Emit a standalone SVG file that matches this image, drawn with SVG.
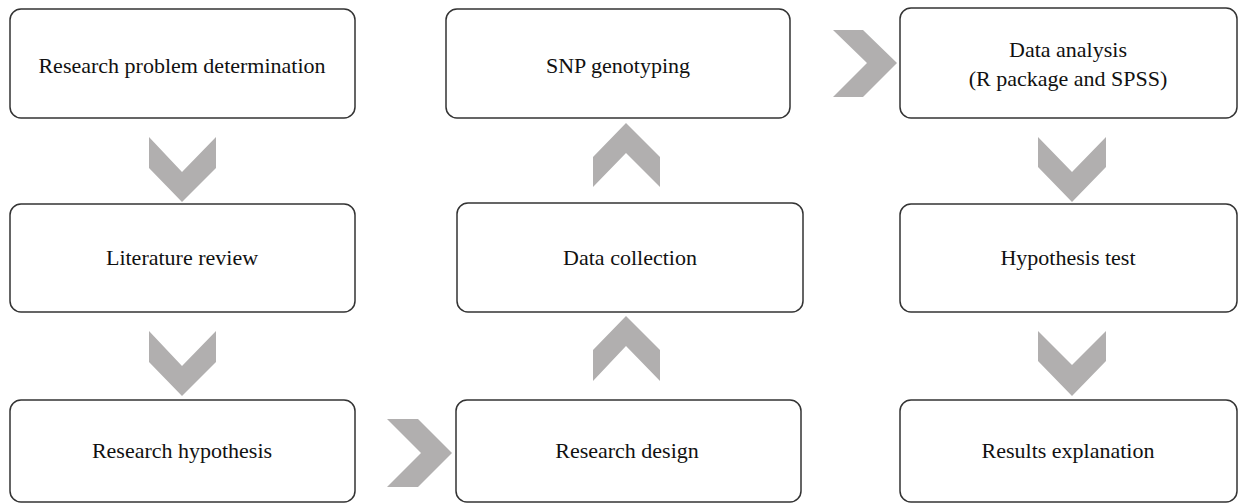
<svg xmlns="http://www.w3.org/2000/svg" width="1239" height="504" viewBox="0 0 1239 504">
<style>
.box{fill:#fff;stroke:#333;stroke-width:1.5}
.lbl{font-family:'Liberation Serif','DejaVu Serif','Times New Roman',serif;font-size:22px;fill:#111;text-anchor:middle}
.chev{fill:#b1afaf}
</style>
<rect width="1239" height="504" fill="#fff"/>
<g id="connectors">
<polygon class="chev" points="149,137 182,172 216,137 216,168 182,202 149,168"/>
<polygon class="chev" points="149,331 182,366 216,331 216,362 182,396 149,362"/>
<polygon class="chev" points="387,419 418,419 452,453 418,487 387,487 421,453"/>
<polygon class="chev" points="593,350 626,316 660,350 660,381 626,346 593,381"/>
<polygon class="chev" points="593,157 626,123 660,157 660,187 626,153 593,187"/>
<polygon class="chev" points="833,30 863,30 897,63 863,97 833,97 867,63"/>
<polygon class="chev" points="1038,137 1072,172 1106,137 1106,167 1072,202 1038,167"/>
<polygon class="chev" points="1038,331 1072,365 1106,331 1106,361 1072,396 1038,361"/>
</g>
<g id="n1"><rect class="box" x="10" y="9" width="345" height="109" rx="11"/><text class="lbl" x="182" y="73">Research problem determination</text></g>
<g id="n2"><rect class="box" x="10" y="204" width="345" height="108" rx="11"/><text class="lbl" x="182" y="265">Literature review</text></g>
<g id="n3"><rect class="box" x="10" y="400" width="345" height="102" rx="11"/><text class="lbl" x="182" y="458">Research hypothesis</text></g>
<g id="n4"><rect class="box" x="456" y="400" width="345" height="102" rx="11"/><text class="lbl" x="627" y="458">Research design</text></g>
<g id="n5"><rect class="box" x="457" y="203" width="346" height="109" rx="11"/><text class="lbl" x="630" y="265">Data collection</text></g>
<g id="n6"><rect class="box" x="446" y="9" width="344" height="109" rx="11"/><text class="lbl" x="618" y="73">SNP genotyping</text></g>
<g id="n7"><rect class="box" x="900" y="8" width="337" height="110" rx="11"/><text class="lbl" x="1068" y="57">Data analysis</text><text class="lbl" x="1068" y="86">(R package and SPSS)</text></g>
<g id="n8"><rect class="box" x="900" y="204" width="337" height="108" rx="11"/><text class="lbl" x="1068" y="265">Hypothesis test</text></g>
<g id="n9"><rect class="box" x="900" y="400" width="337" height="102" rx="11"/><text class="lbl" x="1068" y="458">Results explanation</text></g>
</svg>
